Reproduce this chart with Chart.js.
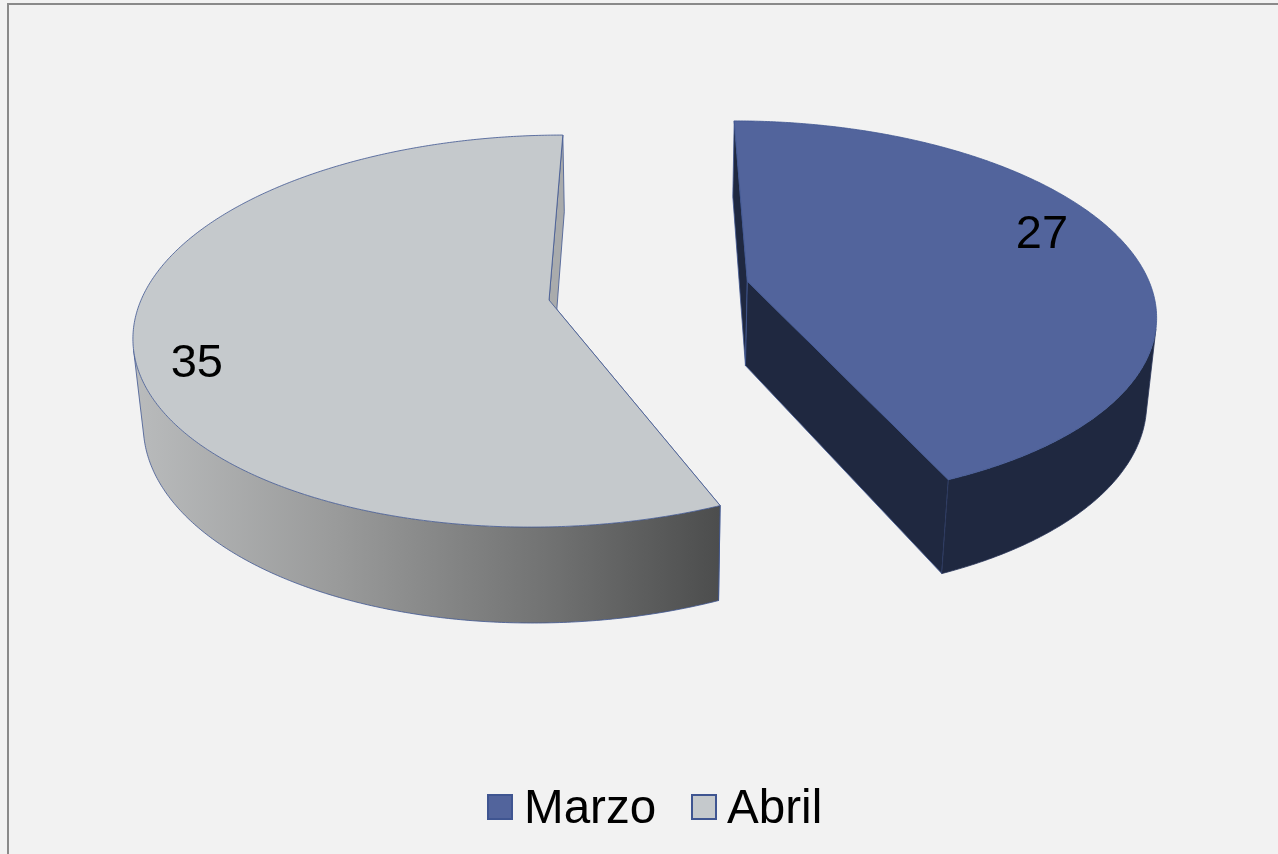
<!DOCTYPE html>
<html>
<head>
<meta charset="utf-8">
<style>html,body{margin:0;padding:0;background:#f2f2f2;overflow:hidden}canvas{display:block}</style>
<script src="https://cdn.jsdelivr.net/npm/chart.js@4"></script>
</head>
<body>
<canvas id="c" width="1278" height="854"></canvas>
<script>
const categories = ['Marzo', 'Abril'];
const values = [27, 35];
const topColors = ['#52649c', '#c5c9cc'];

// Perspective view of the pie plane (vanishing points)
const VIEW = {hx:650, hy:-908, h:1208, k:0.1582, a:408, ox:-101, shiftX:0.245, shiftZ:0.05, explode:0.25,
              nadirX:650, nadirY:4700, depth:0.0198};
function project(X, Z, down) {
  const x = X + VIEW.shiftX, z = Z + VIEW.shiftZ;
  const w = 1 + VIEW.k * z;
  const px = VIEW.hx * w + VIEW.ox + VIEW.a * x;
  const py = VIEW.hy * w + VIEW.h;
  const d = down ? VIEW.depth : 0;
  return [(px + d * VIEW.nadirX) / (w + d), (py + d * VIEW.nadirY) / (w + d)];
}
function addPoly(ctx, pts) {
  pts.forEach((p, i) => i ? ctx.lineTo(p[0], p[1]) : ctx.moveTo(p[0], p[1]));
  ctx.closePath();
}
function polygon(ctx, pts) {
  ctx.beginPath();
  addPoly(ctx, pts);
}
function segment(ctx, a, b) {
  ctx.moveTo(a[0], a[1]);
  ctx.lineTo(b[0], b[1]);
}
const pie3d = {
  id: 'pie3d',
  beforeDraw(chart) {
    const ctx = chart.ctx;
    ctx.save();
    ctx.fillStyle = '#f2f2f2';
    ctx.fillRect(0, 0, chart.width, chart.height);
    ctx.fillStyle = '#8a8a8a';
    ctx.fillRect(7, 3, chart.width - 7, 2);
    ctx.fillRect(7, 3, 2, chart.height - 3);
    ctx.restore();
  },
  beforeDatasetsDraw(chart) {
    const ctx = chart.ctx;
    const arcs = chart.getDatasetMeta(0).data;
    const wallGrad = ctx.createLinearGradient(135, 0, 720, 0);
    wallGrad.addColorStop(0, '#b9bbbc');
    wallGrad.addColorStop(0.35, '#999a9a');
    wallGrad.addColorStop(0.7, '#727373');
    wallGrad.addColorStop(1, '#4c4d4d');
    const wallFill = ['#1f2840', wallGrad];
    const cutFill = ['#1f2840', '#a9abac'];
    const wallEdge = ['#2a3558', '#3f5591'];
    const labelRadius = [0.8235, 0.8676];
    ctx.save();
    ctx.lineJoin = 'round';
    arcs.forEach((arc, i) => {
      const a0 = arc.startAngle + Math.PI / 2, a1 = arc.endAngle + Math.PI / 2;
      const mid = (a0 + a1) / 2;
      const cx = VIEW.explode * Math.sin(mid), cz = VIEW.explode * Math.cos(mid);
      const n = Math.max(8, Math.round((a1 - a0) * 180 / Math.PI) * 2);
      const rimTop = [], rimBot = [];
      for (let j = 0; j <= n; j++) {
        const t = a0 + (a1 - a0) * j / n;
        const X = cx + Math.sin(t), Z = cz + Math.cos(t);
        rimTop.push(project(X, Z, false));
        rimBot.push(project(X, Z, true));
      }
      const apexTop = project(cx, cz, false), apexBot = project(cx, cz, true);
      ctx.strokeStyle = '#3f5591';
      ctx.lineWidth = 0.8;
      // cut faces
      ctx.fillStyle = cutFill[i];
      polygon(ctx, [apexTop, rimTop[0], rimBot[0], apexBot]); ctx.fill(); ctx.stroke();
      polygon(ctx, [apexTop, rimTop[n], rimBot[n], apexBot]); ctx.fill(); ctx.stroke();
      // outer wall: only the strips that face the viewer, filled as one path
      const visible = [];
      for (let j = 0; j < n; j++) {
        const dx = rimTop[j + 1][0] - rimTop[j][0], dy = rimTop[j + 1][1] - rimTop[j][1];
        const bx = rimBot[j][0] - rimTop[j][0], by = rimBot[j][1] - rimTop[j][1];
        visible.push(dx * by - dy * bx < 0);
      }
      ctx.fillStyle = wallFill[i];
      ctx.beginPath();
      for (let j = 0; j < n; j++) {
        if (visible[j]) addPoly(ctx, [rimTop[j], rimTop[j + 1], rimBot[j + 1], rimBot[j]]);
      }
      ctx.fill();
      ctx.strokeStyle = wallEdge[i];
      ctx.lineWidth = 0.8;
      ctx.beginPath();
      for (let j = 0; j < n; j++) {
        if (!visible[j]) continue;
        segment(ctx, rimBot[j], rimBot[j + 1]);
        const before = j > 0 && visible[j - 1], after = j < n - 1 && visible[j + 1];
        if (!before) segment(ctx, rimTop[j], rimBot[j]);
        if (!after) segment(ctx, rimTop[j + 1], rimBot[j + 1]);
      }
      ctx.stroke();
      // top face
      ctx.strokeStyle = '#3f5591';
      ctx.fillStyle = arc.options.backgroundColor;
      polygon(ctx, [apexTop].concat(rimTop)); ctx.fill(); ctx.stroke();
      // value label
      const la = mid - 8.6 * Math.PI / 180, r = labelRadius[i];
      const lp = project(cx + r * Math.sin(la), cz + r * Math.cos(la), false);
      ctx.fillStyle = '#000';
      ctx.font = '47px "Liberation Sans"';
      ctx.textAlign = 'center';
      ctx.textBaseline = 'middle';
      ctx.fillText(String(chart.data.datasets[0].data[i]), lp[0] + 1.5, lp[1] + 4);
    });
    ctx.restore();
    return false;
  },
  afterDraw(chart) {
    // legend
    const ctx = chart.ctx;
    const ds = chart.data.datasets[0];
    const xs = [488, 692], textX = [524, 727];
    ctx.save();
    ctx.font = '47.6px "Liberation Sans"';
    ctx.textBaseline = 'alphabetic';
    ctx.textAlign = 'left';
    chart.data.labels.forEach((label, i) => {
      ctx.fillStyle = ds.backgroundColor[i];
      ctx.strokeStyle = '#3f5591';
      ctx.lineWidth = 2;
      ctx.fillRect(xs[i], 795, 24, 24);
      ctx.strokeRect(xs[i], 795, 24, 24);
      ctx.fillStyle = '#000';
      ctx.fillText(label, textX[i], 823);
    });
    ctx.restore();
  }
};
new Chart(document.getElementById('c'), {
  type: 'pie',
  data: {labels: categories, datasets: [{data: values, backgroundColor: topColors}]},
  options: {
    responsive: false,
    animation: false,
    plugins: {legend: {display: false}, tooltip: {enabled: false}}
  },
  plugins: [pie3d]
});
</script>
</body>
</html>
